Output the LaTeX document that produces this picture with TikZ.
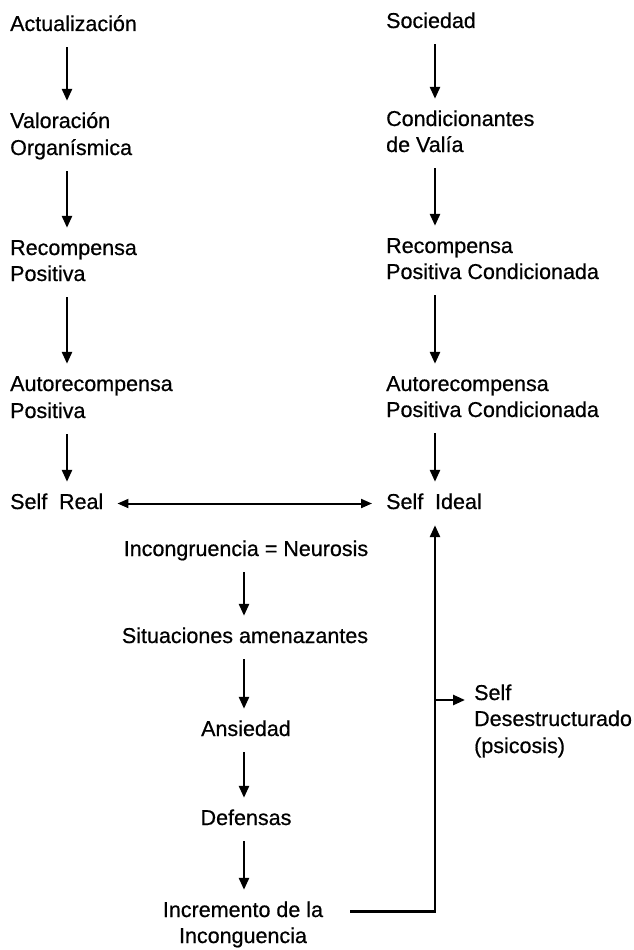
\documentclass[tikz,border=0pt]{standalone}
\usepackage{fontspec}
\setmainfont{Liberation Sans}[FakeBold=0.6]
\usetikzlibrary{arrows.meta}
\newcommand\dfont{\fontsize{21.5}{26}\selectfont}
\tikzset{
  lbl/.style={inner xsep=0pt, inner ysep=11.5pt, text height=15.5pt, text depth=4.5pt, font=\dfont},
  lw/.style={lbl, anchor=base west},
  mid/.style={lbl, anchor=base},
  arr/.style={line width=2.6pt, -{Triangle[length=12pt,width=10pt]}},
  dbl/.style={line width=2pt, {Triangle[length=11pt,width=9pt]}-{Triangle[length=11pt,width=9pt]}},
}
\begin{document}
\begin{tikzpicture}[x=1pt,y=-1pt]
\useasboundingbox (0,0) rectangle (633,950);
% axes for connectors
\coordinate (L) at (67,0);
\coordinate (R) at (435,0);
\coordinate (C) at (244,0);
% left column
\node[lw] (act)  at (10,31)  {Actualización};
\node[lw] (valA) at (10,128) {Valoración};
\node[lw] (valB) at (10,155) {Organísmica};
\node[lw] (recA) at (10,255) {Recompensa};
\node[lw] (recB) at (10,281) {Positiva};
\node[lw] (autA) at (10,391) {Autorecompensa};
\node[lw] (autB) at (10,418) {Positiva};
\node[lw] (sreal) at (10,509) {Self\hspace{0.55em}Real};
% right column
\node[lw] (soc)  at (386,28)  {Sociedad};
\node[lw] (conA) at (386,126) {Condicionantes};
\node[lw] (conB) at (386,152) {de Valía};
\node[lw] (rcA)  at (386,253) {Recompensa};
\node[lw] (rcB)  at (386,279) {Positiva Condicionada};
\node[lw] (acA)  at (386,391) {Autorecompensa};
\node[lw] (acB)  at (386,417) {Positiva Condicionada};
\node[lw] (sideal) at (386,509) {Self\hspace{0.55em}Ideal};
% middle column
\node[mid] (incg) at (246,556) {Incongruencia = Neurosis};
\node[mid] (sit)  at (245,643) {Situaciones amenazantes};
\node[mid] (ans)  at (246,736) {Ansiedad};
\node[mid] (def)  at (246,825) {Defensas};
\node[mid] (incA) at (243,917) {Incremento de la};
\node[mid] (incB) at (243,943) {Inconguencia};
% desestructurado
\node[lw] (sdA) at (474,700) {Self};
\node[lw] (sdB) at (474,726) {Desestructurado};
\node[lw] (sdC) at (474,753) {(psicosis)};
% left arrows
\draw[arr] (act.south -| L) -- (valA.north -| L);
\draw[arr] (valB.south -| L) -- (recA.north -| L);
\draw[arr] (recB.south -| L) -- (autA.north -| L);
\draw[arr] (autB.south -| L) -- (sreal.north -| L);
% right arrows
\draw[arr] (soc.south -| R) -- (conA.north -| R);
\draw[arr] (conB.south -| R) -- (rcA.north -| R);
\draw[arr] (rcB.south -| R) -- (acA.north -| R);
\draw[arr] (acB.south -| R) -- (sideal.north -| R);
% double arrow
\draw[dbl, shorten <=14pt, shorten >=14pt] (sreal.east) -- (sideal.west);
% middle arrows
\draw[arr] (incg.south -| C) -- (sit.north -| C);
\draw[arr] (sit.south -| C) -- (ans.north -| C);
\draw[arr] (ans.south -| C) -- (def.north -| C);
\draw[arr] (def.south -| C) -- (incA.north -| C);
% feedback
\draw[arr, shorten <=27pt] (incA.east) -- (incA.east -| R) -- (sideal.south -| R);
\draw[arr, shorten >=9pt] (sdA.base west -| R) -- (sdA.base west);
\end{tikzpicture}
\end{document}
